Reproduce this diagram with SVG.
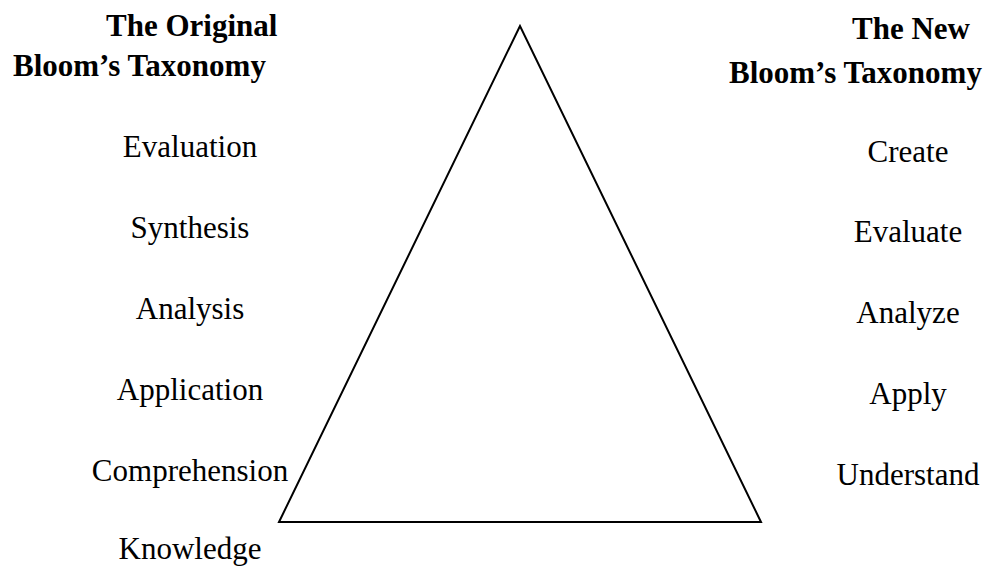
<svg xmlns="http://www.w3.org/2000/svg" width="995" height="567" viewBox="0 0 995 567">
<style>
.h{font-family:"Liberation Serif","Times New Roman",serif;font-size:31px;font-weight:bold;fill:#000}
.t{font-family:"Liberation Serif","Times New Roman",serif;font-size:31px;fill:#000;text-anchor:middle}
.tri{fill:none;stroke:#000;stroke-width:2;stroke-linejoin:miter}
</style>
<rect width="995" height="567" fill="#fff"/>
<g id="triangle"><polygon class="tri" points="520,26 279,522 761,522"/></g>
<g id="original-title">
<text class="h" x="106" y="36">The Original</text>
<text class="h" x="13" y="76">Bloom’s Taxonomy</text>
</g>
<g id="new-title">
<text class="h" x="852" y="39">The New</text>
<text class="h" x="729" y="83">Bloom’s Taxonomy</text>
</g>
<g id="original-levels">
<text class="t" x="190" y="157">Evaluation</text>
<text class="t" x="190" y="238">Synthesis</text>
<text class="t" x="190" y="319">Analysis</text>
<text class="t" x="190" y="400">Application</text>
<text class="t" x="190" y="481">Comprehension</text>
<text class="t" x="190" y="559">Knowledge</text>
</g>
<g id="new-levels">
<text class="t" x="908" y="162">Create</text>
<text class="t" x="908" y="242">Evaluate</text>
<text class="t" x="908" y="323">Analyze</text>
<text class="t" x="908" y="404">Apply</text>
<text class="t" x="908" y="485">Understand</text>
</g>
</svg>
